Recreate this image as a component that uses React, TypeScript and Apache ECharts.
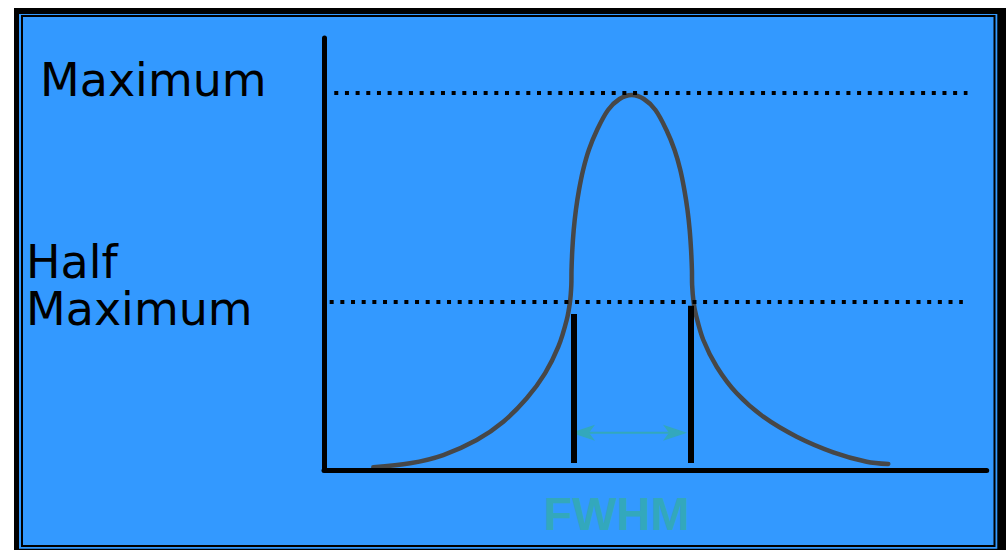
import React, { useEffect, useRef } from "react";
import * as echarts from "echarts";

// Curve (arbitrary units: x 0–100 along the axis, y 0–100 up the axis)
const curveX = [
  7.44, 12.98, 18.0, 23.04, 27.06, 30.59, 33.35, 35.36, 36.62, 37.12,
  37.32, 37.35, 37.47, 37.68, 38.01, 38.48, 39.1, 39.96, 41.2, 42.86, 44.59, 46.43,
  48.27, 50.01, 51.67, 52.9, 53.77, 54.38, 54.85, 55.18, 55.39, 55.52, 55.55,
  55.76, 56.13, 57.24, 59.26, 62.28, 66.29, 71.33, 76.85, 81.89, 85.15,
];
const curveY = [
  0.63, 1.55, 3.47, 6.94, 11.18, 16.6, 22.38, 28.54, 34.72, 38.96,
  42.82, 46.3, 50.93, 55.56, 60.19, 64.81, 69.44, 74.07, 78.7, 83.33, 85.88, 86.81,
  85.88, 83.33, 78.7, 74.07, 69.44, 64.81, 60.19, 55.56, 50.93, 46.3, 42.82,
  38.96, 35.88, 30.09, 23.91, 17.75, 12.34, 7.71, 4.1, 1.92, 1.39,
];

// Reference levels
const maxLevel = 87.3;
const halfLevel = 39.0;
const maxLineX = [1.55, 97.1];
const halfLineX = [0, 96.4];

// FWHM markers
const fwhmBarX = [37.7, 55.4];
const fwhmBarTop = [36.1, 38.0];
const fwhmBarBottom = 1.6;
const fwhmArrow = [37.27, 54.78, 8.6]; // [from x, to x, y]

const labels = { max: "Maximum", half: "Half\nMaximum", fwhm: "FWHM" };

const BLUE = "#3399ff";
const TEAL = "#33a8bc";
const CURVE = "#474747";

export default function App() {
  const ref = useRef<HTMLDivElement>(null);
  useEffect(() => {
    if (!ref.current) return;
    const chart = echarts.init(ref.current, undefined, { renderer: "svg" });
    const dotted = { color: "#000", width: 4, type: [4, 6.67] as any, cap: "butt" };
    const bar = { color: "#000", width: 6, type: "solid", cap: "butt" };
    const headLen = 24;
    const headHalf = 8;
    const notch = 18;
    const points = curveX.map((x, i) => [x, curveY[i]]);
    chart.setOption({
      animation: false,
      backgroundColor: "#ffffff",
      grid: { left: 324, top: 38, right: 19.3, bottom: 80 },
      xAxis: {
        type: "value", min: 0, max: 100, z: 3,
        axisLine: { show: true, lineStyle: { color: "#000", width: 5 } },
        axisTick: { show: false }, axisLabel: { show: false }, splitLine: { show: false },
      },
      yAxis: {
        type: "value", min: 0, max: 100, z: 3,
        axisLine: { show: true, lineStyle: { color: "#000", width: 5 } },
        axisTick: { show: false }, axisLabel: { show: false }, splitLine: { show: false },
      },
      graphic: [
        { type: "rect", z: -10, shape: { x: 14, y: 8, width: 1000, height: 560 }, style: { fill: "#000" } },
        { type: "rect", z: -9, shape: { x: 19, y: 14, width: 978.3, height: 534.7 }, style: { fill: BLUE } },
        { type: "rect", z: -8, shape: { x: 22, y: 16, width: 972.5, height: 530 }, style: { fill: "none", stroke: "#000", lineWidth: 2 } },
        { type: "text", z: 50, x: 40, y: 79.7, style: { text: labels.max, fontFamily: '"DejaVu Sans"', fontSize: 46, fill: "#000", verticalAlign: "middle" } },
        { type: "text", z: 50, x: 26, y: 285.4, style: { text: labels.half, fontFamily: '"DejaVu Sans"', fontSize: 46, lineHeight: 47.3, fill: "#000", verticalAlign: "middle" } },
        { type: "text", z: 50, x: 616.5, y: 513.7, style: { text: labels.fwhm, fontFamily: '"Liberation Sans", Arial', fontWeight: "bold", fontSize: 47, fill: TEAL, align: "center", verticalAlign: "middle" } },
      ],
      series: [
        {
          // the curve, drawn as one smooth polyline through the data points
          type: "custom",
          silent: true,
          z: 2,
          encode: { x: 0, y: 1 },
          data: points,
          renderItem: (params: any, api: any) => {
            if (params.dataIndexInside !== 0) return null;
            const pts: number[][] = [];
            for (let i = 0; i < params.dataInsideLength; i++) {
              pts.push(api.coord([api.value(0, i), api.value(1, i)]));
            }
            return {
              type: "polyline",
              shape: { points: pts, smooth: 0.33 },
              style: { stroke: CURVE, lineWidth: 4.5, fill: "none", lineCap: "round", lineJoin: "round" },
            };
          },
        },
        {
          // reference lines
          type: "line",
          silent: true,
          z: 3,
          data: points,
          showSymbol: false,
          lineStyle: { opacity: 0 },
          markLine: {
            silent: true,
            animation: false,
            label: { show: false },
            symbol: "none",
            data: [
              [{ coord: [maxLineX[0], maxLevel], symbol: "none", lineStyle: dotted }, { coord: [maxLineX[1], maxLevel], symbol: "none" }],
              [{ coord: [halfLineX[0], halfLevel], symbol: "none", lineStyle: { ...dotted, dashOffset: 5.33 } }, { coord: [halfLineX[1], halfLevel], symbol: "none" }],
              [{ coord: [fwhmBarX[0], fwhmBarTop[0]], symbol: "none", lineStyle: bar }, { coord: [fwhmBarX[0], fwhmBarBottom], symbol: "none" }],
              [{ coord: [fwhmBarX[1], fwhmBarTop[1]], symbol: "none", lineStyle: bar }, { coord: [fwhmBarX[1], fwhmBarBottom], symbol: "none" }],
            ],
          },
        },
        {
          type: "custom",
          silent: true,
          z: 4,
          encode: { x: [0, 1], y: 2 },
          data: [fwhmArrow],
          renderItem: (params: any, api: any) => {
            const a = api.coord([api.value(0), api.value(2)]);
            const b = api.coord([api.value(1), api.value(2)]);
            const y = a[1];
            return {
              type: "group",
              children: [
                { type: "line", shape: { x1: a[0] + notch, y1: y, x2: b[0] - notch, y2: y }, style: { stroke: TEAL, lineWidth: 2 } },
                { type: "polygon", shape: { points: [[a[0], y], [a[0] + headLen, y - headHalf], [a[0] + notch, y], [a[0] + headLen, y + headHalf]] }, style: { fill: TEAL } },
                { type: "polygon", shape: { points: [[b[0], y], [b[0] - headLen, y - headHalf], [b[0] - notch, y], [b[0] - headLen, y + headHalf]] }, style: { fill: TEAL } },
              ],
            };
          },
        },
      ],
    });
    return () => chart.dispose();
  }, []);
  return <div ref={ref} style={{ position: "fixed", left: 0, top: 0, width: 1006, height: 550 }} />;
}
